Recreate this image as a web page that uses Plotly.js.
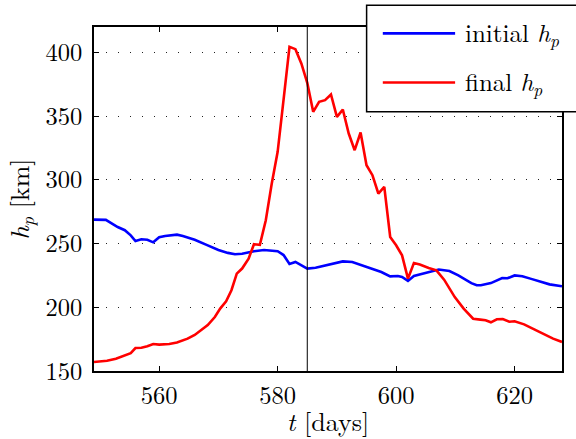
<!DOCTYPE html>
<html>
<head>
<meta charset="utf-8">
<script src="https://cdn.plot.ly/plotly-3.0.1.min.js"></script>
<style>
  html, body { margin: 0; padding: 0; background: #fff; }
  #chart { width: 576px; height: 439px; }
</style>
</head>
<body>
<div id="chart"></div>
<script>
// Perigee altitude over time: initial vs final h_p
const initialDays = [549,551,553,554.2,555.2,556,557,558,559,560,561,563,564,566,568,570,571.6,572.8,574,576,577.7,580,581,582,583,584,585,586.4,588,589.5,591,592.6,594,596,597.5,599,600.3,601,602,603,604.6,605.9,607.2,609,610.5,612.7,613.6,614.3,615.4,616,617.9,618.8,620,621.3,622.8,624.4,625.9,628];
const initialHp = [268.8,268.6,263,260.5,256.5,252,253.4,253,251,255,256,257,256,253,249,245,242.7,241.6,242,244,245,244,241,234,235.6,232.7,230.4,231,232.7,234.8,236,235.6,233.5,230,227.7,224.3,224.6,223.8,220.7,224.6,226.4,227.7,229.6,228.5,225,219,217.3,217.3,218.6,219,223,222.8,225,224.4,222.3,220,218,216.5];

const finalDays = [549,551.2,552.7,554.2,555.2,556,557,558,559,560,561.7,563,564.8,566,567,568.2,569.4,570.3,571.3,572.2,573.1,574,575.1,576,577,578,579,580,581,582,583,584,585,586,587,588,589,590,591,592,593,594,595,596,597,598,599,600,601,602,603,604,605.5,606.8,608.1,609.9,611.4,613,614.2,615.1,616,617,618,619.1,620,621.6,623.4,625,626.5,628];
const finalHp = [157,158,159.7,162,164,168,168.3,169.4,171.2,170.7,171.2,172.3,175.4,178.3,182,186,192.4,199,204.7,213.4,226.4,230.4,238.2,249.5,249,268.3,297,322,363,404.5,402.6,391.4,376.2,353.4,361.3,362.6,367,349.5,355.2,336.4,323.3,337.2,311.5,303.7,289.3,294.5,255.2,248.7,240.8,222.5,234.8,233.5,230.9,229,221.7,208,199,191,190.3,189.8,188.2,190.6,190.8,188.7,189,186.6,182.5,178.5,175.4,172.8];

const markerDay = 585;
const xTicks = [560, 580, 600, 620];
const yTicks = [150, 200, 250, 300, 350, 400];
const seriesNames = ['initial <i>h</i><sub><i>p</i></sub>', 'final <i>h</i><sub><i>p</i></sub>'];
const seriesColors = ['#0000ff', '#ff0000'];

const FONT = 'Latin Modern Roman, Liberation Serif, serif';
const TICK_SIZE = 24.5;
const TITLE_SIZE = 26;
const LEGEND_SIZE = 25;

const traces = [
  { x: initialDays, y: initialHp, name: seriesNames[0], type: 'scatter', mode: 'lines',
    line: { color: seriesColors[0], width: 2.6 } },
  { x: finalDays, y: finalHp, name: seriesNames[1], type: 'scatter', mode: 'lines',
    line: { color: seriesColors[1], width: 2.6 } }
];

// hand-built legend box (long line samples, box running off the right edge)
const legendBox = { x0: 0.5825, x1: 1.08, y0: 0.7534, y1: 1.0629 };
const legendRows = [0.9814, 0.8387];
const legendShapes = [
  { type: 'rect', xref: 'paper', yref: 'paper', layer: 'above',
    x0: legendBox.x0, x1: legendBox.x1, y0: legendBox.y0, y1: legendBox.y1,
    fillcolor: '#ffffff', line: { color: '#000', width: 1.5 } }
];
const legendNotes = [];
legendRows.forEach((yy, i) => {
  legendShapes.push({ type: 'line', xref: 'paper', yref: 'paper', layer: 'above',
    x0: 0.6171, x1: 0.7716, y0: yy, y1: yy,
    line: { color: seriesColors[i], width: 2.6 } });
  legendNotes.push({ xref: 'paper', yref: 'paper', x: 0.7889, y: yy,
    xanchor: 'left', yanchor: 'middle', showarrow: false,
    text: seriesNames[i], font: { family: FONT, size: LEGEND_SIZE, color: '#000' } });
});

const layout = {
  width: 576, height: 439,
  margin: { l: 94, r: 14, t: 27, b: 68, pad: 0 },
  paper_bgcolor: '#fff', plot_bgcolor: '#fff',
  showlegend: false,
  font: { family: FONT, size: TICK_SIZE, color: '#000' },
  xaxis: {
    range: [549, 628], tickvals: xTicks, ticktext: xTicks.map(String),
    ticks: 'inside', ticklen: 5, tickwidth: 1, tickcolor: '#000',
    showline: true, linecolor: '#000', linewidth: 1.5, mirror: 'ticks',
    showgrid: false, zeroline: false, ticklabelstandoff: 2,
    tickfont: { family: FONT, size: TICK_SIZE, color: '#000' },
    title: { text: '<i>t</i> [days]', font: { family: FONT, size: TITLE_SIZE, color: '#000' }, standoff: 6 }
  },
  yaxis: {
    range: [150, 420], tickvals: yTicks, ticktext: yTicks.map(String),
    ticks: 'inside', ticklen: 5, tickwidth: 1, tickcolor: '#000',
    showline: true, linecolor: '#000', linewidth: 1.5, mirror: 'ticks',
    showgrid: true, gridcolor: '#222', gridwidth: 1, griddash: '1px,11px',
    zeroline: false, ticklabelstandoff: 5,
    tickfont: { family: FONT, size: TICK_SIZE, color: '#000' },
    title: { text: '<i>h</i><sub><i>p</i></sub> [km]', font: { family: FONT, size: TITLE_SIZE, color: '#000' }, standoff: 10 }
  },
  shapes: [
    { type: 'line', xref: 'x', yref: 'paper', x0: markerDay, x1: markerDay, y0: 0, y1: 1,
      line: { color: '#000', width: 1 } }
  ].concat(legendShapes),
  annotations: legendNotes
};

Plotly.newPlot('chart', traces, layout, { displayModeBar: false });
</script>
</body>
</html>
